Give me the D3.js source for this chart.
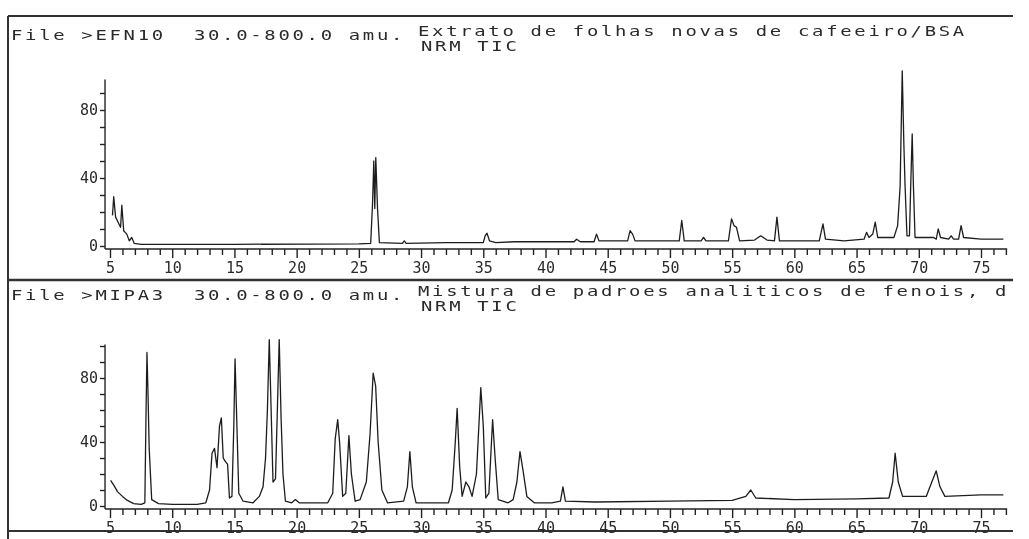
<!DOCTYPE html>
<html>
<head>
<meta charset="utf-8">
<script src="https://cdn.jsdelivr.net/npm/d3@7"></script>
<style>
  body { margin: 0; background: #fff; }
  svg { display: block; }
  .hdr { font-family: "DejaVu Sans Mono", monospace; font-size: 14px; letter-spacing: 2px; fill: #2a2a2a; white-space: pre; }
  .axis text { font-family: "DejaVu Sans Mono", monospace; font-size: 15px; fill: #2a2a2a; }
  .axis line { stroke: #222; stroke-width: 1.4; }
  .trace { fill: none; stroke: #1e1e1e; stroke-width: 1.3; stroke-linejoin: round; }
  .frame { stroke: #333; stroke-width: 2; }
</style>
</head>
<body>
<script>
// header lines of both runs
let topHeader = ["File >EFN10  30.0-800.0 amu.", "Extrato de folhas novas de cafeeiro/BSA", "NRM TIC"]
let botHeader = ["File >MIPA3  30.0-800.0 amu.", "Mistura de padroes analiticos de fenois, d", "NRM TIC"]

// retention time ticks (min) and abundance ticks (%)
let timeTicks = d3.range(5, 78)
let timeLabels = [5, 10, 15, 20, 25, 30, 35, 40, 45, 50, 55, 60, 65, 70, 75]
let abundTicks = d3.range(0, 101, 10)
let abundLabels = [0, 40, 80]

// TIC trace, leaf extract (time, %)
let topTrace = [
  [5.2, 18], [5.3, 29], [5.45, 17], [5.65, 14], [5.85, 11], [5.95, 24], [6.1, 9], [6.35, 7],
  [6.55, 3], [6.75, 5], [6.95, 1.5], [7.5, 1], [15, 1], [25, 1.2], [25.95, 1.5], [26.1, 25],
  [26.2, 50], [26.28, 22], [26.36, 52], [26.5, 22], [26.65, 2], [28.5, 1.5], [28.65, 3], [28.8, 1.5],
  [32, 2], [35.0, 2], [35.15, 6], [35.3, 7.5], [35.5, 3], [36, 2], [37.5, 2.5], [40, 2.5],
  [42.3, 2.5], [42.5, 4], [42.8, 2.5], [43.9, 2.5], [44.1, 7], [44.3, 3], [46.6, 3], [46.8, 9],
  [47.0, 7], [47.2, 3], [50.75, 3], [50.95, 15], [51.15, 3], [52.5, 3], [52.7, 5], [52.9, 3],
  [54.7, 3], [54.95, 16], [55.15, 12], [55.35, 11], [55.6, 3], [56.8, 3.5], [57.3, 6], [57.8, 3.5],
  [58.4, 3], [58.6, 17], [58.8, 3], [62.0, 3], [62.3, 13], [62.5, 4], [64, 3], [65.6, 4],
  [65.8, 8], [66.0, 5], [66.3, 7], [66.5, 14], [66.7, 5], [68.0, 5], [68.3, 12], [68.5, 35],
  [68.67, 103], [68.8, 60], [68.9, 35], [69.05, 6], [69.25, 6], [69.35, 35], [69.47, 66], [69.57, 35],
  [69.7, 5], [71.2, 5], [71.4, 4], [71.56, 10], [71.75, 5], [72.4, 4], [72.6, 6], [72.8, 4],
  [73.2, 4], [73.4, 12], [73.6, 5], [75, 4], [76.8, 4]
]

// TIC trace, phenol standards mix (time, %)
let botTrace = [
  [5.05, 16], [5.3, 13], [5.6, 9], [6.0, 6], [6.4, 3.5], [6.9, 1.5], [7.5, 1], [7.8, 2],
  [7.9, 60], [7.97, 96], [8.05, 72], [8.15, 36], [8.35, 4], [8.9, 1.5], [10, 1], [12, 1],
  [12.7, 2], [13.0, 10], [13.2, 33], [13.4, 36], [13.6, 24], [13.8, 50], [13.95, 55], [14.1, 30],
  [14.25, 28], [14.45, 26], [14.6, 5], [14.8, 6], [14.95, 50], [15.05, 92], [15.2, 50], [15.35, 8],
  [15.7, 3], [16.5, 2], [17.0, 6], [17.3, 12], [17.5, 30], [17.65, 60], [17.8, 104], [17.95, 60],
  [18.1, 15], [18.3, 17], [18.45, 60], [18.6, 104], [18.75, 55], [18.9, 20], [19.1, 3], [19.6, 2],
  [19.9, 4], [20.2, 2], [22.5, 2], [22.9, 8], [23.1, 42], [23.3, 54], [23.45, 40], [23.7, 6],
  [23.95, 8], [24.2, 44], [24.4, 20], [24.7, 3], [25.1, 4], [25.6, 15], [25.9, 45], [26.15, 83],
  [26.35, 75], [26.55, 40], [26.85, 10], [27.3, 2], [28.6, 3], [28.9, 12], [29.1, 34], [29.3, 12],
  [29.6, 2], [32.2, 2], [32.5, 10], [32.75, 40], [32.9, 61], [33.1, 25], [33.3, 6], [33.6, 15],
  [33.85, 12], [34.1, 6], [34.45, 20], [34.8, 74], [35.0, 50], [35.2, 5], [35.45, 8], [35.75, 54],
  [35.95, 30], [36.2, 4], [37.0, 2], [37.4, 4], [37.7, 15], [37.95, 34], [38.2, 22], [38.5, 6],
  [39.1, 2], [40.5, 2], [41.2, 3], [41.4, 12], [41.6, 3], [44, 2.5], [50, 3], [55, 3.5],
  [56.1, 6], [56.5, 10], [56.9, 5], [60, 4], [65, 4.5], [67.6, 5], [67.9, 15], [68.1, 33],
  [68.35, 15], [68.7, 6], [70.6, 6], [71.0, 14], [71.4, 22], [71.7, 12], [72.1, 6], [75, 7],
  [76.8, 7]
]

let width = 1029
let height = 539
let frameLeft = 8
let frameRight = 1013
let frameTop = 16
let frameMid = 280
let frameBottom = 531
let hdrStretch = 1.35

let svg = d3.select("body").append("svg")
  .attr("width", width)
  .attr("height", height)

// a touch of softness, like the scanned print-out
let filt = svg.append("defs").append("filter").attr("id", "soft")
filt.append("feGaussianBlur").attr("stdDeviation", 0.45)

let g = svg.append("g").attr("filter", "url(#soft)")

// page frame
g.append("line").attr("class", "frame")
  .attr("x1", frameLeft).attr("x2", frameRight).attr("y1", frameTop).attr("y2", frameTop)
g.append("line").attr("class", "frame")
  .attr("x1", frameLeft).attr("x2", frameLeft).attr("y1", frameTop).attr("y2", height)
g.append("line").attr("class", "frame").style("stroke-width", 2.6)
  .attr("x1", frameLeft).attr("x2", frameRight).attr("y1", frameMid).attr("y2", frameMid)
g.append("line").attr("class", "frame")
  .attr("x1", frameLeft).attr("x2", frameRight).attr("y1", frameBottom).attr("y2", frameBottom)

// printer-style header line, stretched sideways
function hdrText(str, x, y) {
  g.append("text").attr("class", "hdr")
    .attr("transform", "translate(" + x + "," + y + ") scale(" + hdrStretch + ",1)")
    .text(str)
}

function drawPanel(header, trace, headerY, yRange, yTop) {
  let x = d3.scaleLinear().domain([5, 75]).range([110, 981])
  let y = d3.scaleLinear().domain([0, 80]).range(yRange)

  hdrText(header[0], 11, headerY)
  hdrText(header[1], 418, headerY - 4)
  hdrText(header[2], 421, headerY + 11)

  let axisY = y(0) + 3

  // x axis
  let xa = g.append("g").attr("class", "axis")
    .attr("transform", "translate(0," + axisY + ")")
    .call(d3.axisBottom(x)
      .tickValues(timeTicks)
      .tickSize(6)
      .tickSizeOuter(0)
      .tickFormat(d => timeLabels.includes(d) ? d : ""))
  xa.select(".domain").remove()
  xa.selectAll(".tick line").attr("y2", d => d % 5 === 0 ? 9 : 6)
  xa.selectAll(".tick text").attr("y", 13).attr("dy", "0.71em")
  xa.append("line")
    .attr("x1", x(4.6)).attr("x2", x(77.1))
    .attr("stroke", "#222").attr("stroke-width", 1.6)

  // y axis
  let ya = g.append("g").attr("class", "axis")
    .attr("transform", "translate(" + x(4.6) + ",0)")
    .call(d3.axisLeft(y)
      .tickValues(abundTicks.filter(d => d <= yTop))
      .tickSize(5)
      .tickSizeOuter(0)
      .tickFormat(d => abundLabels.includes(d) ? d : ""))
  ya.select(".domain").remove()
  ya.selectAll(".tick text").attr("x", -7)
  ya.append("line")
    .attr("y1", axisY).attr("y2", y(yTop))
    .attr("stroke", "#222").attr("stroke-width", 1.6)

  // the trace
  let line = d3.line()
    .x(d => x(d[0]))
    .y(d => y(d[1]))
  g.append("path")
    .datum(trace)
    .attr("class", "trace")
    .attr("d", line)
}

drawPanel(topHeader, topTrace, 40, [246, 110], 98)
drawPanel(botHeader, botTrace, 300, [506, 378], 101)
</script>
</body>
</html>
